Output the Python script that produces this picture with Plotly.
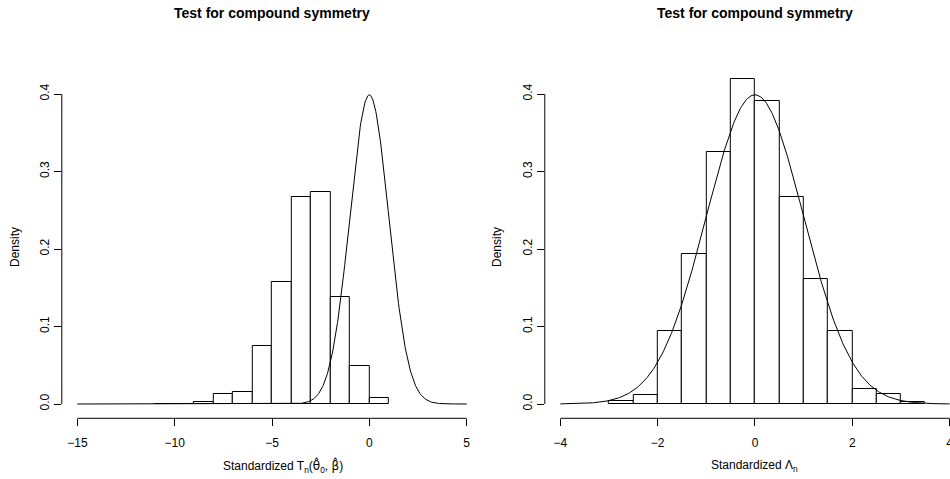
import numpy as np
import plotly.graph_objects as go

W, H = 950, 479

# ---- data ----
left_edges = [-11, -10, -9, -8, -7, -6, -5, -4, -3, -2, -1, 0, 1]
left_density = [0.0005, 0.0005, 0.002, 0.013, 0.0155, 0.075, 0.157, 0.2675, 0.273, 0.1375, 0.049, 0.0074]

right_edges = [-3.0, -2.5, -2.0, -1.5, -1.0, -0.5, 0.0, 0.5, 1.0, 1.5, 2.0, 2.5, 3.0, 3.5]
right_density = [0.004, 0.012, 0.094, 0.1935, 0.325, 0.420, 0.391, 0.2675, 0.1617, 0.094, 0.019, 0.0125, 0.002]

left_xticks = [-15, -10, -5, 0, 5]
right_xticks = [-4, -2, 0, 2, 4]
yticks = [0.0, 0.1, 0.2, 0.3, 0.4]

left_curve_range = (-15, 5)
right_curve_range = (-4, 4)
norm_mean, norm_sd = 0.0, 1.0

title_text = "Test for compound symmetry"
MARKF = "DejaVu Sans, sans-serif"
left_xlabel = ("Standardized T<sub>n</sub>(<span style='font-family:%s'>θ\u0302</span><sub>0</sub>, "
               "<span style='font-family:%s'>β\u0302</span>)" % (MARKF, MARKF))
right_xlabel = "Standardized Λ<sub>n</sub>"
ylabel = "Density"

FONT = "Liberation Sans, Arial, Helvetica, sans-serif"


def dnorm(x):
    return np.exp(-0.5 * ((x - norm_mean) / norm_sd) ** 2) / (norm_sd * np.sqrt(2 * np.pi))


def px(x):
    return x / W


def py(y):
    return 1 - y / H


# ---- layout geometry (pixels) ----
y_top_px, y_bot_px = 31.0, 418.3
yrange = [-0.01845, 0.48129]

left_dom = [px(61.8), px(482.2)]
left_range = [-15.8, 5.8]
right_dom = [px(544.8), 1.0]
right_range = [-4.32, 4.008]

fig = go.Figure()


def hist_trace(edges, dens, xa, ya):
    centers = [(a + b) / 2 for a, b in zip(edges[:-1], edges[1:])]
    widths = [b - a for a, b in zip(edges[:-1], edges[1:])]
    return go.Bar(x=centers, y=dens, width=widths, xaxis=xa, yaxis=ya,
                  marker=dict(color="white", line=dict(color="black", width=1)),
                  showlegend=False, hoverinfo="skip")


fig.add_trace(hist_trace(left_edges, left_density, "x", "y"))
xl = np.linspace(*left_curve_range, 601)
fig.add_trace(go.Scatter(x=xl, y=dnorm(xl), mode="lines", xaxis="x", yaxis="y",
                         line=dict(color="black", width=1), showlegend=False, hoverinfo="skip"))

fig.add_trace(hist_trace(right_edges, right_density, "x2", "y2"))
xr = np.linspace(*right_curve_range, 401)
fig.add_trace(go.Scatter(x=xr, y=dnorm(xr), mode="lines", xaxis="x2", yaxis="y2",
                         line=dict(color="black", width=1), showlegend=False, hoverinfo="skip"))

axis_common = dict(showgrid=False, zeroline=False, showline=False, ticks="outside",
                   ticklen=7, tickwidth=1, tickcolor="black", automargin=False,
                   ticklabeloverflow="allow",
                   tickfont=dict(family=FONT, size=12, color="black"), fixedrange=True)

ydom = [py(y_bot_px), py(y_top_px)]

fig.update_layout(
    width=W, height=H, margin=dict(l=0, r=0, t=0, b=0),
    paper_bgcolor="white", plot_bgcolor="white", bargap=0,
    template="none",
    xaxis=dict(domain=left_dom, range=left_range, tickvals=left_xticks, anchor="y",
               ticklabelstandoff=6, **axis_common),
    yaxis=dict(domain=ydom, range=yrange, tickvals=yticks, tickformat=".1f", tickangle=-90,
               anchor="x", **axis_common),
    xaxis2=dict(domain=right_dom, range=right_range, tickvals=right_xticks, anchor="y2",
                ticklabelstandoff=6, **axis_common),
    yaxis2=dict(domain=ydom, range=yrange, tickvals=yticks, tickformat=".1f", tickangle=-90,
                anchor="x2", **axis_common),
)

# R-style axis lines spanning first to last tick
shapes = []
for xa, ticks in (("x", left_xticks), ("x2", right_xticks)):
    shapes.append(dict(type="line", xref=xa, yref="paper", x0=ticks[0], x1=ticks[-1],
                       y0=py(y_bot_px), y1=py(y_bot_px), line=dict(color="black", width=1)))
for ya, dom in (("y", left_dom), ("y2", right_dom)):
    shapes.append(dict(type="line", xref="paper", yref=ya, x0=dom[0], x1=dom[0],
                       y0=yticks[0], y1=yticks[-1], line=dict(color="black", width=1)))
fig.update_layout(shapes=shapes)

ann = []
for cx in ((left_dom[0] + left_dom[1]) / 2, (right_dom[0] + px(965.2)) / 2):
    ann.append(dict(text="<b>%s</b>" % title_text, x=cx, y=py(13.5), xref="paper", yref="paper",
                    showarrow=False, xanchor="center", yanchor="middle",
                    font=dict(family=FONT, size=14, color="black")))
ann.append(dict(text=left_xlabel, x=px(283), y=py(466), xref="paper", yref="paper",
                showarrow=False, xanchor="center", yanchor="middle",
                font=dict(family=FONT, size=12, color="black")))
ann.append(dict(text=right_xlabel, x=px(754.5), y=py(466), xref="paper", yref="paper",
                showarrow=False, xanchor="center", yanchor="middle",
                font=dict(family=FONT, size=12, color="black")))
for lx in (15, 497):
    ann.append(dict(text=ylabel, x=px(lx), y=py(247), xref="paper", yref="paper",
                    showarrow=False, xanchor="center", yanchor="middle", textangle=-90,
                    font=dict(family=FONT, size=12, color="black")))
fig.update_layout(annotations=ann)

fig.write_html("out.html", config={"displayModeBar": False},
               post_script="document.body.style.margin='0px';document.body.style.overflow='hidden';")
